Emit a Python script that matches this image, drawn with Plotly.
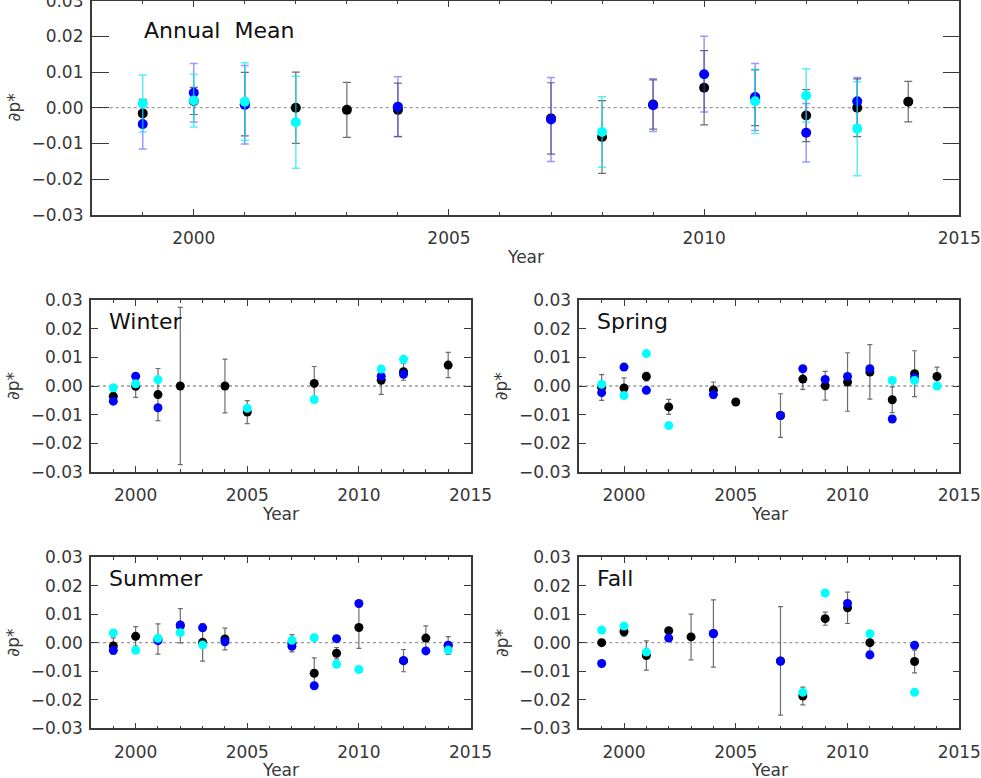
import plotly.graph_objects as go

# ── Data ────────────────────────────────────────────────────────────────────
# Annual mean: black / blue / cyan series with error bars
ANN_YEARS_K = [1999, 2000, 2001, 2002, 2003, 2004, 2007, 2008, 2009, 2010, 2011, 2012, 2013, 2014]
ANN_K = [-0.0016, 0.0019, 0.0010, 0.0000, -0.0006, -0.0006, -0.0030, -0.0082, 0.0009, 0.0056, 0.0028, -0.0022, 0.0000, 0.0017]
ANN_K_ERR = [0.0037, 0.0038, 0.0089, 0.0100, 0.0077, 0.0075, 0.0100, 0.0102, 0.0069, 0.0104, 0.0078, 0.0073, 0.0081, 0.0057]
ANN_YEARS_B = [1999, 2000, 2001, 2004, 2007, 2009, 2010, 2011, 2012, 2013]
ANN_B = [-0.0046, 0.0042, 0.0008, 0.0003, -0.0033, 0.0007, 0.0094, 0.0030, -0.0070, 0.0018]
ANN_B_ERR = [0.0070, 0.0082, 0.0110, 0.0084, 0.0118, 0.0074, 0.0106, 0.0094, 0.0082, 0.0067]
ANN_YEARS_C = [1999, 2000, 2001, 2002, 2008, 2011, 2012, 2013]
ANN_C = [0.0012, 0.0020, 0.0017, -0.0041, -0.0068, 0.0018, 0.0034, -0.0059]
ANN_C_ERR = [0.0080, 0.0074, 0.0109, 0.0129, 0.0099, 0.0090, 0.0075, 0.0132]

# Winter
WIN_YEARS_K = [1999, 2000, 2001, 2002, 2004, 2005, 2008, 2011, 2012, 2014]
WIN_K = [-0.0036, -0.0001, -0.0030, 0.0000, 0.0000, -0.0091, 0.0009, 0.0020, 0.0050, 0.0073]
WIN_K_ERR = [0.0015, 0.0039, 0.0091, 0.0274, 0.0094, 0.0040, 0.0059, 0.0049, 0.0030, 0.0044]
WIN_YEARS_B = [1999, 2000, 2001, 2011, 2012]
WIN_B = [-0.0053, 0.0034, -0.0076, 0.0034, 0.0041]
WIN_YEARS_C = [1999, 2000, 2001, 2005, 2008, 2011, 2012]
WIN_C = [-0.0006, 0.0008, 0.0022, -0.0078, -0.0047, 0.0059, 0.0093]

# Spring
SPR_YEARS_K = [1999, 2000, 2001, 2002, 2004, 2005, 2007, 2008, 2009, 2010, 2011, 2012, 2013, 2014]
SPR_K = [-0.0005, -0.0007, 0.0033, -0.0073, -0.0014, -0.0056, -0.0103, 0.0024, 0.0001, 0.0014, 0.0049, -0.0048, 0.0043, 0.0033]
SPR_K_ERR = [0.0045, 0.0035, 0.0015, 0.0026, 0.0028, 0.0008, 0.0076, 0.0036, 0.0050, 0.0102, 0.0095, 0.0045, 0.0080, 0.0033]
SPR_YEARS_B = [1999, 2000, 2001, 2004, 2007, 2008, 2009, 2010, 2011, 2012, 2013]
SPR_B = [-0.0023, 0.0066, -0.0015, -0.0030, -0.0103, 0.0060, 0.0023, 0.0033, 0.0060, -0.0115, 0.0029]
SPR_YEARS_C = [1999, 2000, 2001, 2002, 2012, 2013, 2014]
SPR_C = [0.0006, -0.0033, 0.0113, -0.0138, 0.0019, 0.0019, 0.0000]

# Summer
SUM_YEARS_K = [1999, 2000, 2001, 2002, 2003, 2004, 2007, 2008, 2009, 2010, 2012, 2013, 2014]
SUM_K = [-0.0012, 0.0022, 0.0013, 0.0059, 0.0001, 0.0013, -0.0002, -0.0107, -0.0037, 0.0053, -0.0063, 0.0016, -0.0010]
SUM_K_ERR = [0.0029, 0.0034, 0.0053, 0.0060, 0.0066, 0.0038, 0.0030, 0.0054, 0.0020, 0.0073, 0.0039, 0.0043, 0.0031]
SUM_YEARS_B = [1999, 2001, 2002, 2003, 2004, 2007, 2008, 2009, 2010, 2012, 2013, 2014]
SUM_B = [-0.0027, 0.0007, 0.0062, 0.0052, 0.0003, -0.0013, -0.0151, 0.0014, 0.0137, -0.0063, -0.0029, -0.0009]
SUM_YEARS_C = [1999, 2000, 2001, 2002, 2003, 2007, 2008, 2009, 2010, 2014]
SUM_C = [0.0034, -0.0027, 0.0015, 0.0035, -0.0008, 0.0008, 0.0017, -0.0076, -0.0094, -0.0026]

# Fall
FAL_YEARS_K = [1999, 2000, 2001, 2002, 2003, 2004, 2007, 2008, 2009, 2010, 2011, 2013]
FAL_K = [0.0000, 0.0038, -0.0045, 0.0042, 0.0020, 0.0032, -0.0064, -0.0187, 0.0084, 0.0122, 0.0000, -0.0066]
FAL_K_ERR = [0.0010, 0.0015, 0.0051, 0.0010, 0.0080, 0.0118, 0.0190, 0.0031, 0.0023, 0.0055, 0.0030, 0.0040]
FAL_YEARS_B = [1999, 2002, 2004, 2007, 2010, 2011, 2013]
FAL_B = [-0.0073, 0.0016, 0.0031, -0.0065, 0.0137, -0.0043, -0.0009]
FAL_YEARS_C = [1999, 2000, 2001, 2008, 2009, 2011, 2013]
FAL_C = [0.0044, 0.0058, -0.0033, -0.0174, 0.0174, 0.0031, -0.0174]

Y_TICKS = [-0.03, -0.02, -0.01, 0.0, 0.01, 0.02, 0.03]
Y_TICKTEXT = ["\u22120.03", "\u22120.02", "\u22120.01", "0.00", "0.01", "0.02", "0.03"]
X_TICKS = [2000, 2005, 2010, 2015]

# ── Style ────────────────────────────────────────────────────────────────────
W, H = 981, 778
FONT = "DejaVu Sans"
TXT = "#383838"
AXC = "#3a3a3a"
BLACK, BLUE, CYAN = "#000000", "#0000ff", "#00ffff"


def px_dom(a, b, total):
    return [a / total, b / total]


def ydom(top, bottom):
    return [1 - bottom / H, 1 - top / H]


# panel boxes in pixels: (left, right, top, bottom)
PANELS = {
    "ann": (91.7, 959.3, 0.7, 214.7),
    "win": (91.0, 470.5, 300.0, 472.0),
    "spr": (579.3, 959.3, 300.0, 472.0),
    "sum": (91.0, 470.5, 557.0, 728.3),
    "fal": (579.3, 959.3, 557.0, 728.3),
}

fig = go.Figure()
layout_axes = {}
shapes = []
annotations = []


def add_panel(i, key, title, k, b, c, yticklen):
    left, right, top, bottom = PANELS[key]
    xa, ya = f"x{i}" if i > 1 else "x", f"y{i}" if i > 1 else "y"
    xname = f"xaxis{i}" if i > 1 else "xaxis"
    yname = f"yaxis{i}" if i > 1 else "yaxis"
    big = key == "ann"
    msize = 10 if big else 9

    # black
    fig.add_trace(go.Scatter(
        x=k[0], y=k[1], mode="markers", xaxis=xa, yaxis=ya,
        marker=dict(color=BLACK, size=msize),
        error_y=dict(type="data", array=k[2], color="rgba(60,60,60,0.75)",
                     thickness=1.2, width=4 if big else 2.5),
        showlegend=False,
    ))
    # blue
    fig.add_trace(go.Scatter(
        x=b[0], y=b[1], mode="markers", xaxis=xa, yaxis=ya,
        marker=dict(color=BLUE, size=msize),
        error_y=dict(type="data", array=b[2], color="rgba(70,70,255,0.55)",
                     thickness=1.5, width=4) if len(b) > 2 else None,
        showlegend=False,
    ))
    # cyan
    fig.add_trace(go.Scatter(
        x=c[0], y=c[1], mode="markers", xaxis=xa, yaxis=ya,
        marker=dict(color=CYAN, size=msize),
        error_y=dict(type="data", array=c[2], color="rgba(0,230,240,0.65)",
                     thickness=1.5, width=4) if len(c) > 2 else None,
        showlegend=False,
    ))

    layout_axes[xname] = dict(
        domain=px_dom(left, right, W), range=[1998, 2015], anchor=ya,
        tickvals=X_TICKS, ticks="inside", ticklen=6, tickwidth=1.2, tickcolor=AXC,
        minor=dict(dtick=1, tick0=1998, ticks="inside", ticklen=3, tickcolor=AXC),
        showline=True, linecolor=AXC, linewidth=1.6, mirror="allticks",
        showgrid=False, zeroline=False, ticklabelstandoff=7, automargin=False,
        ticklabeloverflow="allow",
        tickfont=dict(family=FONT, size=17, color=TXT),
    )
    layout_axes[yname] = dict(
        domain=ydom(top, bottom), range=[-0.03, 0.03], anchor=xa,
        tickvals=Y_TICKS, ticktext=Y_TICKTEXT, ticks="inside", ticklen=yticklen,
        tickwidth=1.2, tickcolor=AXC,
        showline=True, linecolor=AXC, linewidth=1.6, mirror="allticks",
        showgrid=False, zeroline=False, ticklabelstandoff=3, automargin=False,
        ticklabeloverflow="allow",
        tickfont=dict(family=FONT, size=17, color=TXT),
    )
    # dotted zero line
    shapes.append(dict(type="line", xref=f"{xa} domain", yref=ya, x0=0, x1=1, y0=0, y1=0,
                       line=dict(color="#999999", width=1.3, dash="dot"), layer="below"))
    # panel title
    annotations.append(dict(text=title, xref="paper", yref="paper",
                            x=(left + (50 if big else 16)) / W,
                            y=1 - (top + (30 if big else 21)) / H,
                            xanchor="left", yanchor="middle", showarrow=False,
                            font=dict(family=FONT, size=22, color="#111111")))
    # axis titles
    annotations.append(dict(text="Year", xref="paper", yref="paper",
                            x=(left + right) / 2 / W, y=1 - (bottom + 42) / H,
                            xanchor="center", yanchor="middle", showarrow=False,
                            font=dict(family=FONT, size=17, color=TXT)))
    annotations.append(dict(text="\u2202p*", xref="paper", yref="paper",
                            x=(left - 78) / W, y=1 - (top + bottom) / 2 / H,
                            xanchor="center", yanchor="middle", showarrow=False, textangle=-90,
                            font=dict(family=FONT, size=17, color=TXT)))


add_panel(1, "ann", "Annual  Mean",
          (ANN_YEARS_K, ANN_K, ANN_K_ERR), (ANN_YEARS_B, ANN_B, ANN_B_ERR),
          (ANN_YEARS_C, ANN_C, ANN_C_ERR), 17)
add_panel(2, "win", "Winter", (WIN_YEARS_K, WIN_K, WIN_K_ERR),
          (WIN_YEARS_B, WIN_B), (WIN_YEARS_C, WIN_C), 7)
add_panel(3, "spr", "Spring", (SPR_YEARS_K, SPR_K, SPR_K_ERR),
          (SPR_YEARS_B, SPR_B), (SPR_YEARS_C, SPR_C), 7)
add_panel(4, "sum", "Summer", (SUM_YEARS_K, SUM_K, SUM_K_ERR),
          (SUM_YEARS_B, SUM_B), (SUM_YEARS_C, SUM_C), 7)
add_panel(5, "fal", "Fall", (FAL_YEARS_K, FAL_K, FAL_K_ERR),
          (FAL_YEARS_B, FAL_B), (FAL_YEARS_C, FAL_C), 7)

fig.update_layout(
    width=W, height=H,
    margin=dict(l=0, r=0, t=0, b=0, autoexpand=False),
    paper_bgcolor="white", plot_bgcolor="white",
    font=dict(family=FONT, color=TXT),
    shapes=shapes, annotations=annotations,
    **layout_axes,
)

# the page's default body margin would shift the figure by 8px
fig.write_html("out.html", config={"displayModeBar": False},
               post_script="document.body.style.margin = '0';")
